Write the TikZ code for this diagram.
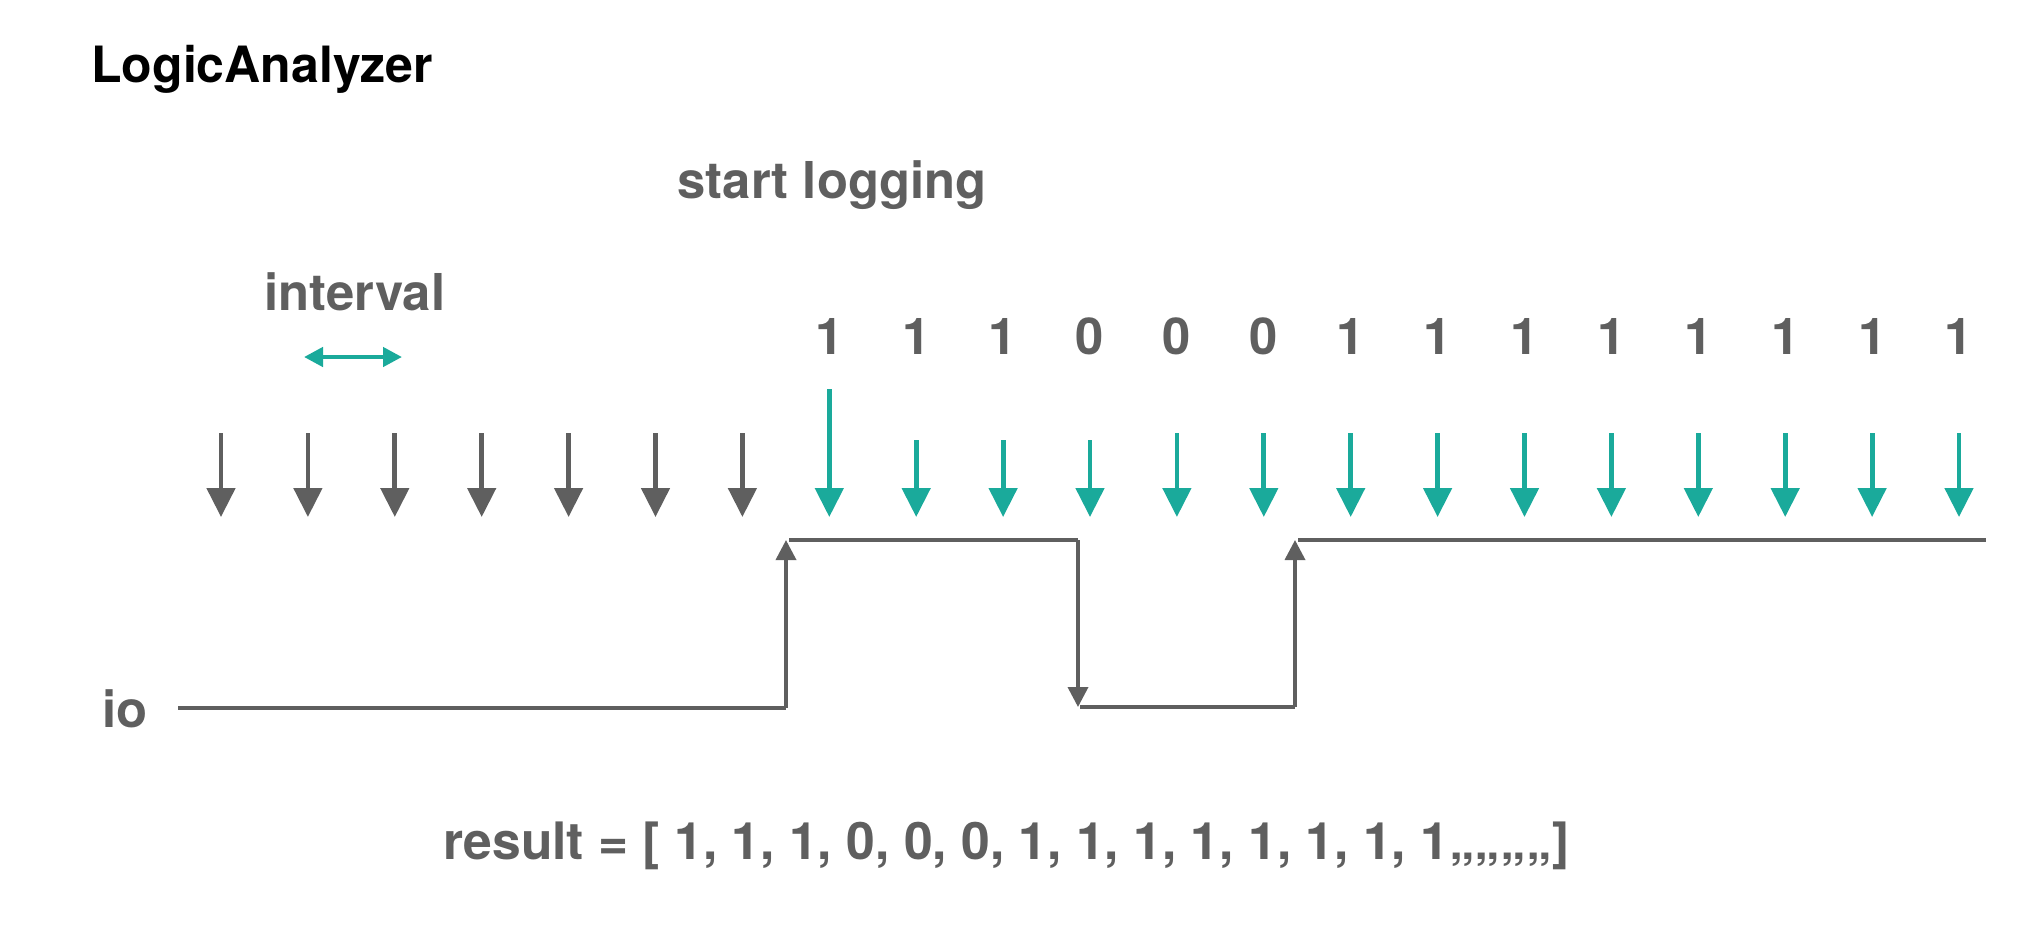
\documentclass[tikz,border=0pt]{standalone}
\usepackage{fontspec}
\setmainfont{TeX Gyre Heros}
\usetikzlibrary{arrows.meta}
\definecolor{lagray}{RGB}{95,95,95}
\definecolor{lateal}{RGB}{26,170,155}
\begin{document}
\begin{tikzpicture}[x=0.5pt,y=-0.5pt,
  lbl/.style={font=\fontsize{25.4}{30}\selectfont\bfseries, text=lagray, inner sep=0pt, anchor=base west},
  title/.style={font=\fontsize{25}{30}\selectfont\bfseries, text=black, inner sep=0pt, anchor=base west},
  num/.style={font=\fontsize{25.4}{30}\selectfont\bfseries, text=lagray, inner sep=0pt, anchor=base},
  sample/.style={line width=2.4pt, -{Triangle[width=14pt,length=14.5pt]}},
  wave/.style={line width=1.8pt, draw=lagray},
  edgearrow/.style={wave, -{Triangle[width=10pt,length=10pt]}},
  span/.style={line width=2.2pt, draw=lateal, {Triangle[width=9.5pt,length=9.5pt]}-{Triangle[width=9.5pt,length=9.5pt]}}
]
\useasboundingbox (0,0) rectangle (2040,950);

% texts
\node[title] (ttl) at (91,82) {LogicAnalyzer};
\node[lbl] (start) at (677,198) {start logging};
\node[lbl] (intv) at (264,310) {interval};
\node[lbl] (io) at (102,727) {io};
\node[lbl, font=\fontsize{25.8}{30}\selectfont\bfseries] (res) at (443,859) {result = [ 1, 1, 1, 0, 0, 0, 1, 1, 1, 1, 1, 1, 1, 1,,,,,,,,]};

% interval arrow
\coordinate (ia) at (304,357);
\coordinate (ib) at (402,357);
\draw[span] (ia) -- (ib);

% sampling arrows
\foreach \i/\top in {0/433,1/433,2/433,3/433,4/433,5/433,6/433,7/389,8/440,9/440,10/440,11/433,12/433,13/433,14/433,15/433,16/433,17/433,18/433,19/433,20/433}{
  \pgfmathsetmacro\xx{221+86.9*\i}
  \coordinate (s\i) at (\xx,\top);
  \coordinate (t\i) at (\xx,517);
  \ifnum\i<7
    \draw[sample, draw=lagray] (s\i) -- (t\i);
  \else
    \draw[sample, draw=lateal] (s\i) -- (t\i);
  \fi
}

% sampled values
\foreach \i/\v in {7/1,8/1,9/1,10/0,11/0,12/0,13/1,14/1,15/1,16/1,17/1,18/1,19/1,20/1}{
  \pgfmathsetmacro\xx{221+86.9*\i}
  \node[num] (n\i) at (\xx,354) {\v};
}

% waveform
\coordinate (w0) at (178,708);
\coordinate (w1) at (786,708);
\coordinate (w2) at (786,540);
\coordinate (w3) at (789,540);
\coordinate (w4) at (1078,540);
\coordinate (w5) at (1078,707);
\coordinate (w6) at (1080,707);
\coordinate (w7) at (1295,707);
\coordinate (w8) at (1295,540);
\coordinate (w9) at (1298,540);
\coordinate (w10) at (1986,540);
\draw[wave] (w0) -- (w1);
\draw[edgearrow] (w1) -- (w2);
\draw[wave] (w3) -- (w4);
\draw[edgearrow] (w4) -- (w5);
\draw[wave] (w6) -- (w7);
\draw[edgearrow] (w7) -- (w8);
\draw[wave] (w9) -- (w10);
\end{tikzpicture}
\end{document}
